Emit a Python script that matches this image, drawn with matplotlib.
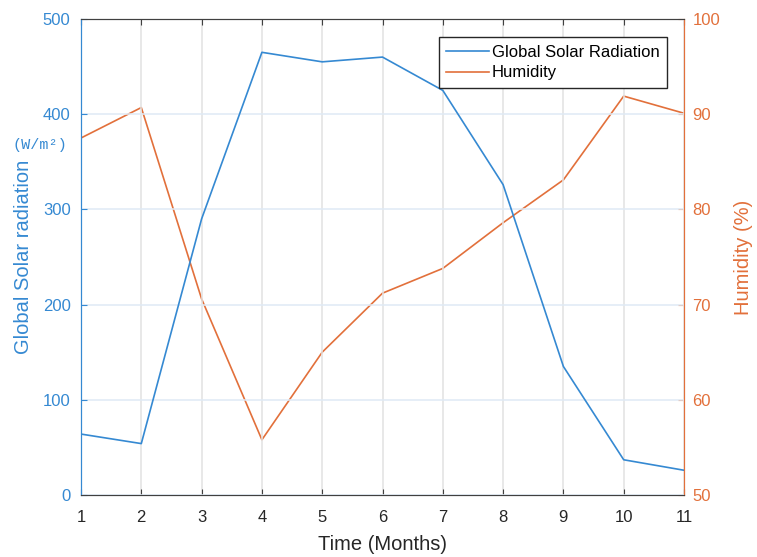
import numpy as np
import matplotlib
matplotlib.use("Agg")
import matplotlib.pyplot as plt

months = [1, 2, 3, 4, 5, 6, 7, 8, 9, 10, 11]
solar = [64, 54, 290, 465, 455, 460, 425, 326, 135, 37, 26]
humidity = [87.5, 90.7, 70.6, 55.8, 65.0, 71.2, 73.8, 78.6, 83.1, 91.9, 90.1]

blue = "#3589D2"
orange = "#E2703B"
dark = "#404040"

plt.rcParams['font.family'] = ['Liberation Sans', 'DejaVu Sans']

fig = plt.figure(figsize=(7.57, 5.57), dpi=100)
ax = fig.add_axes([81/757, 1-495/557, (684-81)/757, (495-19)/557])
ax2 = ax.twinx()

l1, = ax.plot(months, solar, color=blue, lw=1.2, label='Global Solar Radiation')
l2, = ax2.plot(months, humidity, color=orange, lw=1.2, label='Humidity')

ax.set_xlim(1, 11)
ax.set_ylim(0, 500)
ax2.set_ylim(50, 100)
ax.set_xticks(months)
ax.set_yticks(np.arange(0, 501, 100))
ax2.set_yticks(np.arange(50, 101, 10))

ax.grid(True, axis='x', color='#e2e2e2', lw=1.1)
ax.grid(True, axis='y', color='#dfeaf5', lw=1.1)
ax.set_axisbelow(True)

for s in ['top', 'bottom']:
    ax.spines[s].set_color(dark)
    ax2.spines[s].set_color(dark)
ax.spines['left'].set_color(blue)
ax2.spines['left'].set_color(blue)
ax.spines['right'].set_color(orange)
ax2.spines['right'].set_color(orange)

ax.tick_params(axis='y', colors=blue, labelsize=12, direction='in', length=4, pad=7.5)
ax.tick_params(axis='x', colors=dark, labelcolor='#262626', labelsize=12,
               direction='in', length=4, pad=11, top=True)
ax2.tick_params(axis='y', colors=orange, labelsize=12, direction='in', length=4, pad=6)

ax.set_xlabel('Time (Months)', fontsize=14.5, color='#262626', labelpad=7)
ax.set_ylabel('Global Solar radiation', fontsize=14.5, color=blue, labelpad=7)
ax2.set_ylabel('Humidity (%)', fontsize=14.5, color=orange, labelpad=10)

fig.text(40/757, 1-145/557, '(W/m²)', fontsize=11, color=blue,
         family='Liberation Mono', ha='center', va='center')

leg = ax.legend(handles=[l1, l2], loc='upper right', bbox_to_anchor=(0.972, 0.962),
                fontsize=12, frameon=True, fancybox=False, framealpha=1,
                edgecolor='#262626', handlelength=2.6, handletextpad=0.15,
                borderpad=0.45, labelspacing=0.35, borderaxespad=0)
leg.get_frame().set_linewidth(1)
ax.set_zorder(ax2.get_zorder() + 1)
ax.patch.set_visible(False)

fig.savefig('out.png', dpi=100)
